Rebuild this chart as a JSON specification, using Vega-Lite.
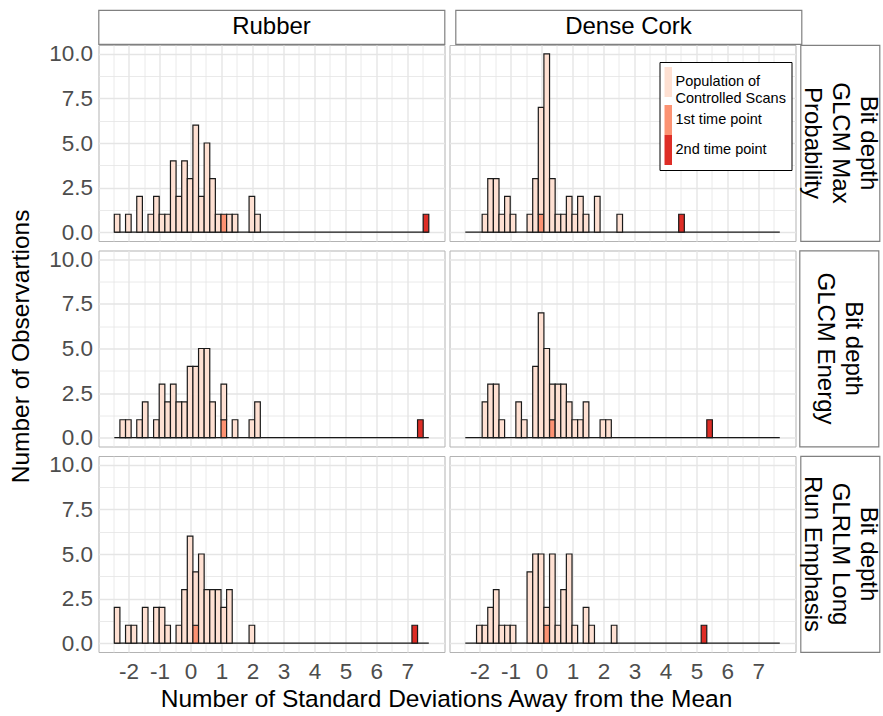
{
 "$schema": "https://vega.github.io/schema/vega-lite/v6.json",
 "padding": {"left": 8.5, "top": 9, "right": 0, "bottom": 0},
 "title": {"text": "Number of Observartions", "orient": "left", "anchor": "middle", "dx": 15, "offset": 13.5, "fontSize": 24.5, "fontWeight": "normal", "color": "black"},
 "config": {
  "font": "Liberation Sans",
  "view": {"stroke": "#B3B3B3", "strokeWidth": 1},
  "axis": {"domain": false, "ticks": false, "gridColor": "#E5E5E5", "labelColor": "#4D4D4D", "labelFontSize": 22.5, "titleFontSize": 24.5, "titleFontWeight": "normal", "titleColor": "black"},
  "legend": {"orient": "none", "legendX": 561, "legendY": 52, "strokeColor": "black", "fillColor": "white", "padding": 5, "labelFontSize": 14.5, "labelColor": "black", "symbolType": "M-1,-1L-0.5,-1L-0.5,1L-1,1Z", "symbolSize": 900, "symbolStrokeWidth": 0, "symbolOpacity": 1, "labelOffset": -19, "rowPadding": 0, "labelLimit": 300}
 },
 "datasets": {
  "base": [{"b": -2.46, "e": 7.693, "y0": 0, "y1": 0}],
  "bars": [
   {"p":"R1","g":"Population of Controlled Scans","b":-2.460,"e":-2.279,"n":1},
   {"p":"R1","g":"Population of Controlled Scans","b":-2.097,"e":-1.916,"n":1},
   {"p":"R1","g":"Population of Controlled Scans","b":-1.735,"e":-1.553,"n":2},
   {"p":"R1","g":"Population of Controlled Scans","b":-1.372,"e":-1.191,"n":1},
   {"p":"R1","g":"Population of Controlled Scans","b":-1.191,"e":-1.010,"n":2},
   {"p":"R1","g":"Population of Controlled Scans","b":-1.010,"e":-0.828,"n":1},
   {"p":"R1","g":"Population of Controlled Scans","b":-0.828,"e":-0.647,"n":1},
   {"p":"R1","g":"Population of Controlled Scans","b":-0.647,"e":-0.466,"n":4},
   {"p":"R1","g":"Population of Controlled Scans","b":-0.466,"e":-0.284,"n":2},
   {"p":"R1","g":"Population of Controlled Scans","b":-0.284,"e":-0.103,"n":4},
   {"p":"R1","g":"Population of Controlled Scans","b":-0.103,"e":0.078,"n":3},
   {"p":"R1","g":"Population of Controlled Scans","b":0.078,"e":0.260,"n":6},
   {"p":"R1","g":"Population of Controlled Scans","b":0.260,"e":0.441,"n":2},
   {"p":"R1","g":"Population of Controlled Scans","b":0.441,"e":0.622,"n":5},
   {"p":"R1","g":"Population of Controlled Scans","b":0.622,"e":0.803,"n":3},
   {"p":"R1","g":"Population of Controlled Scans","b":0.803,"e":0.985,"n":1},
   {"p":"R1","g":"1st time point","b":0.985,"e":1.166,"n":1},
   {"p":"R1","g":"Population of Controlled Scans","b":1.166,"e":1.347,"n":1},
   {"p":"R1","g":"Population of Controlled Scans","b":1.347,"e":1.529,"n":1},
   {"p":"R1","g":"Population of Controlled Scans","b":1.891,"e":2.073,"n":2},
   {"p":"R1","g":"Population of Controlled Scans","b":2.073,"e":2.254,"n":1},
   {"p":"R1","g":"2nd time point","b":7.512,"e":7.693,"n":1},

   {"p":"R2","g":"Population of Controlled Scans","b":-2.279,"e":-2.097,"n":1},
   {"p":"R2","g":"Population of Controlled Scans","b":-2.097,"e":-1.916,"n":1},
   {"p":"R2","g":"Population of Controlled Scans","b":-1.735,"e":-1.553,"n":1},
   {"p":"R2","g":"Population of Controlled Scans","b":-1.553,"e":-1.372,"n":2},
   {"p":"R2","g":"Population of Controlled Scans","b":-1.191,"e":-1.010,"n":1},
   {"p":"R2","g":"Population of Controlled Scans","b":-1.010,"e":-0.828,"n":3},
   {"p":"R2","g":"Population of Controlled Scans","b":-0.828,"e":-0.647,"n":2},
   {"p":"R2","g":"Population of Controlled Scans","b":-0.647,"e":-0.466,"n":3},
   {"p":"R2","g":"Population of Controlled Scans","b":-0.466,"e":-0.284,"n":2},
   {"p":"R2","g":"Population of Controlled Scans","b":-0.284,"e":-0.103,"n":2},
   {"p":"R2","g":"Population of Controlled Scans","b":-0.103,"e":0.078,"n":4},
   {"p":"R2","g":"Population of Controlled Scans","b":0.078,"e":0.260,"n":4},
   {"p":"R2","g":"Population of Controlled Scans","b":0.260,"e":0.441,"n":5},
   {"p":"R2","g":"Population of Controlled Scans","b":0.441,"e":0.622,"n":5},
   {"p":"R2","g":"Population of Controlled Scans","b":0.622,"e":0.803,"n":2},
   {"p":"R2","g":"1st time point","b":0.985,"e":1.166,"n":1},
   {"p":"R2","g":"Population of Controlled Scans","b":0.985,"e":1.166,"n":2},
   {"p":"R2","g":"Population of Controlled Scans","b":1.347,"e":1.529,"n":1},
   {"p":"R2","g":"Population of Controlled Scans","b":1.891,"e":2.073,"n":1},
   {"p":"R2","g":"Population of Controlled Scans","b":2.073,"e":2.254,"n":2},
   {"p":"R2","g":"2nd time point","b":7.330,"e":7.512,"n":1},

   {"p":"R3","g":"Population of Controlled Scans","b":-2.460,"e":-2.279,"n":2},
   {"p":"R3","g":"Population of Controlled Scans","b":-2.097,"e":-1.916,"n":1},
   {"p":"R3","g":"Population of Controlled Scans","b":-1.916,"e":-1.735,"n":1},
   {"p":"R3","g":"Population of Controlled Scans","b":-1.553,"e":-1.372,"n":2},
   {"p":"R3","g":"Population of Controlled Scans","b":-1.191,"e":-1.010,"n":2},
   {"p":"R3","g":"Population of Controlled Scans","b":-1.010,"e":-0.828,"n":2},
   {"p":"R3","g":"Population of Controlled Scans","b":-0.828,"e":-0.647,"n":1},
   {"p":"R3","g":"Population of Controlled Scans","b":-0.466,"e":-0.284,"n":1},
   {"p":"R3","g":"Population of Controlled Scans","b":-0.284,"e":-0.103,"n":3},
   {"p":"R3","g":"Population of Controlled Scans","b":-0.103,"e":0.078,"n":6},
   {"p":"R3","g":"1st time point","b":0.078,"e":0.260,"n":1},
   {"p":"R3","g":"Population of Controlled Scans","b":0.078,"e":0.260,"n":3},
   {"p":"R3","g":"Population of Controlled Scans","b":0.260,"e":0.441,"n":5},
   {"p":"R3","g":"Population of Controlled Scans","b":0.441,"e":0.622,"n":3},
   {"p":"R3","g":"Population of Controlled Scans","b":0.622,"e":0.803,"n":3},
   {"p":"R3","g":"Population of Controlled Scans","b":0.803,"e":0.985,"n":3},
   {"p":"R3","g":"Population of Controlled Scans","b":0.985,"e":1.166,"n":2},
   {"p":"R3","g":"Population of Controlled Scans","b":1.166,"e":1.347,"n":3},
   {"p":"R3","g":"Population of Controlled Scans","b":1.891,"e":2.073,"n":1},
   {"p":"R3","g":"2nd time point","b":7.149,"e":7.330,"n":1},

   {"p":"C1","g":"Population of Controlled Scans","b":-1.916,"e":-1.735,"n":1},
   {"p":"C1","g":"Population of Controlled Scans","b":-1.735,"e":-1.553,"n":3},
   {"p":"C1","g":"Population of Controlled Scans","b":-1.553,"e":-1.372,"n":3},
   {"p":"C1","g":"Population of Controlled Scans","b":-1.372,"e":-1.191,"n":1},
   {"p":"C1","g":"Population of Controlled Scans","b":-1.191,"e":-1.010,"n":2},
   {"p":"C1","g":"Population of Controlled Scans","b":-1.010,"e":-0.828,"n":1},
   {"p":"C1","g":"Population of Controlled Scans","b":-0.466,"e":-0.284,"n":1},
   {"p":"C1","g":"Population of Controlled Scans","b":-0.284,"e":-0.103,"n":3},
   {"p":"C1","g":"1st time point","b":-0.103,"e":0.078,"n":1},
   {"p":"C1","g":"Population of Controlled Scans","b":-0.103,"e":0.078,"n":6},
   {"p":"C1","g":"Population of Controlled Scans","b":0.078,"e":0.260,"n":10},
   {"p":"C1","g":"Population of Controlled Scans","b":0.260,"e":0.441,"n":3},
   {"p":"C1","g":"Population of Controlled Scans","b":0.441,"e":0.622,"n":1},
   {"p":"C1","g":"Population of Controlled Scans","b":0.622,"e":0.803,"n":1},
   {"p":"C1","g":"Population of Controlled Scans","b":0.803,"e":0.985,"n":2},
   {"p":"C1","g":"Population of Controlled Scans","b":0.985,"e":1.166,"n":1},
   {"p":"C1","g":"Population of Controlled Scans","b":1.166,"e":1.347,"n":2},
   {"p":"C1","g":"Population of Controlled Scans","b":1.347,"e":1.529,"n":1},
   {"p":"C1","g":"Population of Controlled Scans","b":1.710,"e":1.891,"n":2},
   {"p":"C1","g":"Population of Controlled Scans","b":2.435,"e":2.616,"n":1},
   {"p":"C1","g":"2nd time point","b":4.429,"e":4.611,"n":1},

   {"p":"C2","g":"Population of Controlled Scans","b":-1.916,"e":-1.735,"n":2},
   {"p":"C2","g":"Population of Controlled Scans","b":-1.735,"e":-1.553,"n":3},
   {"p":"C2","g":"Population of Controlled Scans","b":-1.553,"e":-1.372,"n":3},
   {"p":"C2","g":"Population of Controlled Scans","b":-1.372,"e":-1.191,"n":1},
   {"p":"C2","g":"Population of Controlled Scans","b":-0.828,"e":-0.647,"n":2},
   {"p":"C2","g":"Population of Controlled Scans","b":-0.647,"e":-0.466,"n":1},
   {"p":"C2","g":"Population of Controlled Scans","b":-0.284,"e":-0.103,"n":4},
   {"p":"C2","g":"Population of Controlled Scans","b":-0.103,"e":0.078,"n":7},
   {"p":"C2","g":"Population of Controlled Scans","b":0.078,"e":0.260,"n":5},
   {"p":"C2","g":"1st time point","b":0.260,"e":0.441,"n":1},
   {"p":"C2","g":"Population of Controlled Scans","b":0.260,"e":0.441,"n":2},
   {"p":"C2","g":"Population of Controlled Scans","b":0.441,"e":0.622,"n":3},
   {"p":"C2","g":"Population of Controlled Scans","b":0.622,"e":0.803,"n":3},
   {"p":"C2","g":"Population of Controlled Scans","b":0.803,"e":0.985,"n":2},
   {"p":"C2","g":"Population of Controlled Scans","b":0.985,"e":1.166,"n":1},
   {"p":"C2","g":"Population of Controlled Scans","b":1.166,"e":1.347,"n":1},
   {"p":"C2","g":"Population of Controlled Scans","b":1.347,"e":1.529,"n":2},
   {"p":"C2","g":"Population of Controlled Scans","b":1.891,"e":2.073,"n":1},
   {"p":"C2","g":"Population of Controlled Scans","b":2.073,"e":2.254,"n":1},
   {"p":"C2","g":"2nd time point","b":5.336,"e":5.517,"n":1},

   {"p":"C3","g":"Population of Controlled Scans","b":-2.097,"e":-1.916,"n":1},
   {"p":"C3","g":"Population of Controlled Scans","b":-1.916,"e":-1.735,"n":1},
   {"p":"C3","g":"Population of Controlled Scans","b":-1.735,"e":-1.553,"n":2},
   {"p":"C3","g":"Population of Controlled Scans","b":-1.553,"e":-1.372,"n":3},
   {"p":"C3","g":"Population of Controlled Scans","b":-1.372,"e":-1.191,"n":1},
   {"p":"C3","g":"Population of Controlled Scans","b":-1.191,"e":-1.010,"n":1},
   {"p":"C3","g":"Population of Controlled Scans","b":-1.010,"e":-0.828,"n":1},
   {"p":"C3","g":"Population of Controlled Scans","b":-0.466,"e":-0.284,"n":4},
   {"p":"C3","g":"Population of Controlled Scans","b":-0.284,"e":-0.103,"n":5},
   {"p":"C3","g":"Population of Controlled Scans","b":-0.103,"e":0.078,"n":5},
   {"p":"C3","g":"1st time point","b":0.078,"e":0.260,"n":1},
   {"p":"C3","g":"Population of Controlled Scans","b":0.078,"e":0.260,"n":1},
   {"p":"C3","g":"Population of Controlled Scans","b":0.260,"e":0.441,"n":5},
   {"p":"C3","g":"Population of Controlled Scans","b":0.441,"e":0.622,"n":1},
   {"p":"C3","g":"Population of Controlled Scans","b":0.622,"e":0.803,"n":3},
   {"p":"C3","g":"Population of Controlled Scans","b":0.803,"e":0.985,"n":5},
   {"p":"C3","g":"Population of Controlled Scans","b":0.985,"e":1.166,"n":1},
   {"p":"C3","g":"Population of Controlled Scans","b":1.347,"e":1.529,"n":2},
   {"p":"C3","g":"Population of Controlled Scans","b":1.529,"e":1.710,"n":1},
   {"p":"C3","g":"Population of Controlled Scans","b":2.254,"e":2.435,"n":1},
   {"p":"C3","g":"2nd time point","b":5.155,"e":5.336,"n":1}
  ]
 },
 "spacing": 2.5,
 "vconcat": [
  {"spacing": -4, "vconcat": [
   {"spacing": 9, "hconcat": [
    {"width": 346, "height": 34, "view": {"stroke": "#808080", "strokeWidth": 1.2, "fill": "white"}, "data": {"values": [{"t": "Rubber"}]}, "mark": {"type": "text", "fontSize": 24, "color": "black"}, "encoding": {"text": {"field": "t"}}},
    {"width": 346, "height": 34, "view": {"stroke": "#808080", "strokeWidth": 1.2, "fill": "white"}, "data": {"values": [{"t": "Dense Cork"}]}, "mark": {"type": "text", "fontSize": 24, "color": "black"}, "encoding": {"text": {"field": "t"}}}
   ]},
   {"spacing": 3, "hconcat": [
    {"width": 346, "height": 196,
     "encoding": {
      "x": {"field": "b", "type": "quantitative", "scale": {"domain": [-2.97, 8.2], "nice": false, "zero": false}, "axis": {"values": [-2.5,-2,-1.5,-1,-0.5,0,0.5,1,1.5,2,2.5,3,3.5,4,4.5,5,5.5,6,6.5,7,7.5], "labels": false, "title": null, "gridWidth": {"condition": {"test": "datum.value % 1 != 0", "value": 0.8}, "value": 1.4}}},
      "x2": {"field": "e"},
      "y": {"field": "y0", "type": "quantitative", "scale": {"domain": [-0.5, 10.5], "nice": false, "zero": false}, "axis": {"values": [0,1.25,2.5,3.75,5,6.25,7.5,8.75,10], "labelExpr": "datum.value % 2.5 == 0 ? format(datum.value, '.1f') : ''", "labelPadding": 6, "title": null, "gridWidth": {"condition": {"test": "datum.value % 2.5 != 0", "value": 0.8}, "value": 1.4}}},
      "y2": {"field": "y1"}
     },
     "layer": [
      {"data": {"name": "base"}, "mark": {"type": "rule", "color": "#1a1a1a", "strokeWidth": 1.2}, "encoding": {}},
      {"data": {"name": "bars"}, "transform": [{"filter": "datum.p == 'R1'"}, {"stack": "n", "groupby": ["b"], "sort": [{"field": "g"}], "as": ["y0", "y1"]}],
       "mark": {"type": "bar", "stroke": "#1a1a1a", "strokeWidth": 1.2},
       "encoding": {"color": {"field": "g", "type": "nominal", "scale": {"domain": ["Population of Controlled Scans", "1st time point", "2nd time point"], "range": ["#FEE0D2", "#FC9272", "#DE2D26"]}, "legend": {"title": null, "labelExpr": "datum.label == 'Population of Controlled Scans' ? ['Population of', 'Controlled Scans'] : datum.label"}}}}
     ]},
    {"spacing": 2, "hconcat": [
     {"width": 346, "height": 196,
      "encoding": {
       "x": {"field": "b", "type": "quantitative", "scale": {"domain": [-2.97, 8.2], "nice": false, "zero": false}, "axis": {"values": [-2.5,-2,-1.5,-1,-0.5,0,0.5,1,1.5,2,2.5,3,3.5,4,4.5,5,5.5,6,6.5,7,7.5], "labels": false, "title": null, "gridWidth": {"condition": {"test": "datum.value % 1 != 0", "value": 0.8}, "value": 1.4}}},
       "x2": {"field": "e"},
       "y": {"field": "y0", "type": "quantitative", "scale": {"domain": [-0.5, 10.5], "nice": false, "zero": false}, "axis": {"values": [0,1.25,2.5,3.75,5,6.25,7.5,8.75,10], "labels": false, "title": null, "gridWidth": {"condition": {"test": "datum.value % 2.5 != 0", "value": 0.8}, "value": 1.4}}},
       "y2": {"field": "y1"}
      },
      "layer": [
       {"data": {"name": "base"}, "mark": {"type": "rule", "color": "#1a1a1a", "strokeWidth": 1.2}, "encoding": {}},
       {"data": {"name": "bars"}, "transform": [{"filter": "datum.p == 'C1'"}, {"stack": "n", "groupby": ["b"], "sort": [{"field": "g"}], "as": ["y0", "y1"]}],
        "mark": {"type": "bar", "stroke": "#1a1a1a", "strokeWidth": 1.2},
        "encoding": {"color": {"field": "g", "type": "nominal", "scale": {"domain": ["Population of Controlled Scans", "1st time point", "2nd time point"], "range": ["#FEE0D2", "#FC9272", "#DE2D26"]}, "legend": {"title": null, "labelExpr": "datum.label == 'Population of Controlled Scans' ? ['Population of', 'Controlled Scans'] : datum.label"}}}}
      ]},
     {"width": 79, "height": 196, "view": {"stroke": "#808080", "strokeWidth": 1.2, "fill": "white"}, "data": {"values": [{"t": "Bit depth", "i": 1}, {"t": "GLCM Max", "i": 2}, {"t": "Probability", "i": 3}]}, "mark": {"type": "text", "fontSize": 24, "angle": 90, "color": "black"}, "encoding": {"text": {"field": "t"}, "x": {"field": "i", "type": "ordinal", "scale": {"type": "point", "domain": [3, 2, 1], "padding": 0.386}, "axis": null}}}
    ]}
   ]}
  ]},
  {"spacing": 3, "hconcat": [
   {"width": 346, "height": 196,
    "encoding": {
     "x": {"field": "b", "type": "quantitative", "scale": {"domain": [-2.97, 8.2], "nice": false, "zero": false}, "axis": {"values": [-2.5,-2,-1.5,-1,-0.5,0,0.5,1,1.5,2,2.5,3,3.5,4,4.5,5,5.5,6,6.5,7,7.5], "labels": false, "title": null, "gridWidth": {"condition": {"test": "datum.value % 1 != 0", "value": 0.8}, "value": 1.4}}},
     "x2": {"field": "e"},
     "y": {"field": "y0", "type": "quantitative", "scale": {"domain": [-0.5, 10.5], "nice": false, "zero": false}, "axis": {"values": [0,1.25,2.5,3.75,5,6.25,7.5,8.75,10], "labelExpr": "datum.value % 2.5 == 0 ? format(datum.value, '.1f') : ''", "labelPadding": 6, "title": null, "gridWidth": {"condition": {"test": "datum.value % 2.5 != 0", "value": 0.8}, "value": 1.4}}},
     "y2": {"field": "y1"}
    },
    "layer": [
     {"data": {"name": "base"}, "mark": {"type": "rule", "color": "#1a1a1a", "strokeWidth": 1.2}, "encoding": {}},
     {"data": {"name": "bars"}, "transform": [{"filter": "datum.p == 'R2'"}, {"stack": "n", "groupby": ["b"], "sort": [{"field": "g"}], "as": ["y0", "y1"]}],
      "mark": {"type": "bar", "stroke": "#1a1a1a", "strokeWidth": 1.2},
      "encoding": {"color": {"field": "g", "type": "nominal", "scale": {"domain": ["Population of Controlled Scans", "1st time point", "2nd time point"], "range": ["#FEE0D2", "#FC9272", "#DE2D26"]}, "legend": {"title": null, "labelExpr": "datum.label == 'Population of Controlled Scans' ? ['Population of', 'Controlled Scans'] : datum.label"}}}}
    ]},
   {"spacing": 2, "hconcat": [
    {"width": 346, "height": 196,
     "encoding": {
      "x": {"field": "b", "type": "quantitative", "scale": {"domain": [-2.97, 8.2], "nice": false, "zero": false}, "axis": {"values": [-2.5,-2,-1.5,-1,-0.5,0,0.5,1,1.5,2,2.5,3,3.5,4,4.5,5,5.5,6,6.5,7,7.5], "labels": false, "title": null, "gridWidth": {"condition": {"test": "datum.value % 1 != 0", "value": 0.8}, "value": 1.4}}},
      "x2": {"field": "e"},
      "y": {"field": "y0", "type": "quantitative", "scale": {"domain": [-0.5, 10.5], "nice": false, "zero": false}, "axis": {"values": [0,1.25,2.5,3.75,5,6.25,7.5,8.75,10], "labels": false, "title": null, "gridWidth": {"condition": {"test": "datum.value % 2.5 != 0", "value": 0.8}, "value": 1.4}}},
      "y2": {"field": "y1"}
     },
     "layer": [
      {"data": {"name": "base"}, "mark": {"type": "rule", "color": "#1a1a1a", "strokeWidth": 1.2}, "encoding": {}},
      {"data": {"name": "bars"}, "transform": [{"filter": "datum.p == 'C2'"}, {"stack": "n", "groupby": ["b"], "sort": [{"field": "g"}], "as": ["y0", "y1"]}],
       "mark": {"type": "bar", "stroke": "#1a1a1a", "strokeWidth": 1.2},
       "encoding": {"color": {"field": "g", "type": "nominal", "scale": {"domain": ["Population of Controlled Scans", "1st time point", "2nd time point"], "range": ["#FEE0D2", "#FC9272", "#DE2D26"]}, "legend": {"title": null, "labelExpr": "datum.label == 'Population of Controlled Scans' ? ['Population of', 'Controlled Scans'] : datum.label"}}}}
     ]},
    {"width": 79, "height": 196, "view": {"stroke": "#808080", "strokeWidth": 1.2, "fill": "white"}, "data": {"values": [{"t": "Bit depth", "i": 1}, {"t": "GLCM Energy", "i": 2}]}, "mark": {"type": "text", "fontSize": 24, "angle": 90, "color": "black"}, "encoding": {"text": {"field": "t"}, "x": {"field": "i", "type": "ordinal", "scale": {"type": "point", "domain": [2, 1], "padding": 0.886}, "axis": null}}}
   ]}
  ]},
  {"spacing": 3, "hconcat": [
   {"width": 346, "height": 196,
    "encoding": {
     "x": {"field": "b", "type": "quantitative", "scale": {"domain": [-2.97, 8.2], "nice": false, "zero": false}, "axis": {"values": [-2.5,-2,-1.5,-1,-0.5,0,0.5,1,1.5,2,2.5,3,3.5,4,4.5,5,5.5,6,6.5,7,7.5], "labelExpr": "datum.value % 1 == 0 ? '' + datum.value : ''", "labelPadding": 8, "title": null, "gridWidth": {"condition": {"test": "datum.value % 1 != 0", "value": 0.8}, "value": 1.4}}},
     "x2": {"field": "e"},
     "y": {"field": "y0", "type": "quantitative", "scale": {"domain": [-0.5, 10.5], "nice": false, "zero": false}, "axis": {"values": [0,1.25,2.5,3.75,5,6.25,7.5,8.75,10], "labelExpr": "datum.value % 2.5 == 0 ? format(datum.value, '.1f') : ''", "labelPadding": 6, "title": null, "gridWidth": {"condition": {"test": "datum.value % 2.5 != 0", "value": 0.8}, "value": 1.4}}},
     "y2": {"field": "y1"}
    },
    "layer": [
     {"data": {"name": "base"}, "mark": {"type": "rule", "color": "#1a1a1a", "strokeWidth": 1.2}, "encoding": {}},
     {"data": {"name": "bars"}, "transform": [{"filter": "datum.p == 'R3'"}, {"stack": "n", "groupby": ["b"], "sort": [{"field": "g"}], "as": ["y0", "y1"]}],
      "mark": {"type": "bar", "stroke": "#1a1a1a", "strokeWidth": 1.2},
      "encoding": {"color": {"field": "g", "type": "nominal", "scale": {"domain": ["Population of Controlled Scans", "1st time point", "2nd time point"], "range": ["#FEE0D2", "#FC9272", "#DE2D26"]}, "legend": {"title": null, "labelExpr": "datum.label == 'Population of Controlled Scans' ? ['Population of', 'Controlled Scans'] : datum.label"}}}}
    ]},
   {"spacing": 2, "hconcat": [
    {"width": 346, "height": 196,
     "encoding": {
      "x": {"field": "b", "type": "quantitative", "scale": {"domain": [-2.97, 8.2], "nice": false, "zero": false}, "axis": {"values": [-2.5,-2,-1.5,-1,-0.5,0,0.5,1,1.5,2,2.5,3,3.5,4,4.5,5,5.5,6,6.5,7,7.5], "labelExpr": "datum.value % 1 == 0 ? '' + datum.value : ''", "labelPadding": 8, "title": null, "gridWidth": {"condition": {"test": "datum.value % 1 != 0", "value": 0.8}, "value": 1.4}}},
      "x2": {"field": "e"},
      "y": {"field": "y0", "type": "quantitative", "scale": {"domain": [-0.5, 10.5], "nice": false, "zero": false}, "axis": {"values": [0,1.25,2.5,3.75,5,6.25,7.5,8.75,10], "labels": false, "title": null, "gridWidth": {"condition": {"test": "datum.value % 2.5 != 0", "value": 0.8}, "value": 1.4}}},
      "y2": {"field": "y1"}
     },
     "layer": [
      {"data": {"name": "base"}, "mark": {"type": "rule", "color": "#1a1a1a", "strokeWidth": 1.2}, "encoding": {}},
      {"data": {"name": "bars"}, "transform": [{"filter": "datum.p == 'C3'"}, {"stack": "n", "groupby": ["b"], "sort": [{"field": "g"}], "as": ["y0", "y1"]}],
       "mark": {"type": "bar", "stroke": "#1a1a1a", "strokeWidth": 1.2},
       "encoding": {"color": {"field": "g", "type": "nominal", "scale": {"domain": ["Population of Controlled Scans", "1st time point", "2nd time point"], "range": ["#FEE0D2", "#FC9272", "#DE2D26"]}, "legend": {"title": null, "labelExpr": "datum.label == 'Population of Controlled Scans' ? ['Population of', 'Controlled Scans'] : datum.label"}}}}
     ]},
    {"width": 79, "height": 196, "view": {"stroke": "#808080", "strokeWidth": 1.2, "fill": "white"}, "data": {"values": [{"t": "Bit depth", "i": 1}, {"t": "GLRLM Long", "i": 2}, {"t": "Run Emphasis", "i": 3}]}, "mark": {"type": "text", "fontSize": 24, "angle": 90, "color": "black"}, "encoding": {"text": {"field": "t"}, "x": {"field": "i", "type": "ordinal", "scale": {"type": "point", "domain": [3, 2, 1], "padding": 0.386}, "axis": null}}}
   ]}
  ]},
  {"width": 696, "height": 28, "view": {"stroke": null, "fill": null}, "data": {"values": [{"t": "Number of Standard Deviations Away from the Mean"}]}, "mark": {"type": "text", "fontSize": 24.5, "color": "black"}, "encoding": {"text": {"field": "t"}}}
 ]
}
